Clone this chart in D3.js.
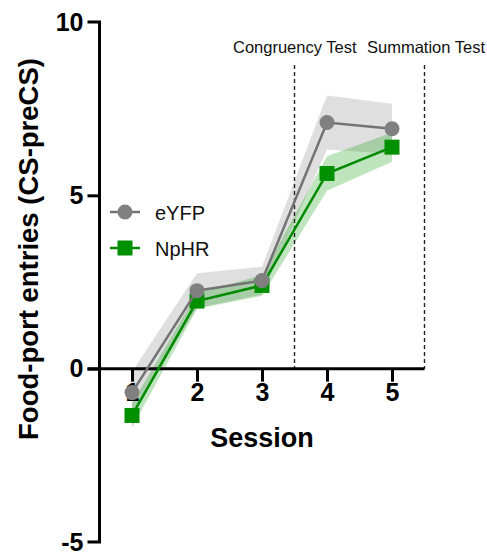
<!DOCTYPE html>
<html>
<head>
<meta charset="utf-8">
<script src="https://cdn.jsdelivr.net/npm/d3@7"></script>
<style>
  html, body { margin: 0; padding: 0; background: #fff; }
  svg { display: block; }
  text { font-family: Arial, "Liberation Sans", Helvetica, sans-serif; }
</style>
</head>
<body>
<svg id="chart" width="487" height="557"></svg>
<script>
// Sessions and group means with SEM
const sessions = [1, 2, 3, 4, 5];
const eyfpMean = [-0.69, 2.25, 2.54, 7.1, 6.92];
const eyfpSem  = [0.6, 0.5, 0.4, 0.78, 0.72];
const nphrMean = [-1.35, 1.95, 2.4, 5.63, 6.39];
const nphrSem  = [0.35, 0.22, 0.3, 0.5, 0.42];
const yTicks = [-5, 0, 5, 10];
const xTicks = [1, 2, 3, 4, 5];
const phaseBounds = [3.5, 5.5];
const phaseLabels = ["Congruency Test", "Summation Test"];

const svg = d3.select("#chart");

const x = d3.scaleLinear().domain([0.5, 5.5]).range([99.5, 424.5]);
const y = d3.scaleLinear().domain([-5, 10]).range([542, 22]);

const groups = [
  { name: "eYFP", mean: eyfpMean, sem: eyfpSem, line: "#737373", fill: "#808080",
    band: "rgba(150,150,150,0.3)", shape: "circle" },
  { name: "NpHR", mean: nphrMean, sem: nphrSem, line: "#008a00", fill: "#009000",
    band: "rgba(0,150,0,0.25)", shape: "square" }
];

// SEM bands
const area = d3.area()
  .x((d, i) => x(sessions[i]))
  .y0(d => y(d.lo))
  .y1(d => y(d.hi));

groups.forEach(g => {
  const pts = g.mean.map((m, i) => ({ lo: m - g.sem[i], hi: m + g.sem[i] }));
  svg.append("path").datum(pts).attr("d", area).attr("fill", g.band);
});

// phase boundaries
svg.selectAll(".phase").data(phaseBounds).join("line")
  .attr("x1", d => x(d)).attr("x2", d => x(d))
  .attr("y1", 65).attr("y2", y(0))
  .attr("stroke", "#222").attr("stroke-width", 1.4)
  .attr("stroke-dasharray", "4,3");

svg.selectAll(".phaseLabel").data(phaseLabels).join("text")
  .attr("x", (d, i) => i === 0 ? 233 : 367)
  .attr("y", 53)
  .attr("font-size", 16.5)
  .attr("fill", "#111")
  .text(d => d);

// axes
const fmt = d => String(d);
const yAxis = d3.axisLeft(y).tickValues(yTicks).tickSize(12).tickPadding(4).tickFormat(fmt);
const gy = svg.append("g").attr("transform", `translate(${x(0.5)},0)`).call(yAxis);
gy.select(".domain").attr("d", `M-12,${y(10)}H0V${y(-5)}H-12`).attr("stroke", "#000").attr("stroke-width", 3).attr("fill", "none");
gy.selectAll(".tick line").attr("stroke", "#000").attr("stroke-width", 3);
gy.selectAll(".tick").filter(d => d === 10 || d === -5).select("line").remove();
gy.selectAll(".tick text").attr("font-size", 25).attr("font-weight", "bold").attr("fill", "#000")
  .attr("font-family", "Arial, 'Liberation Sans', sans-serif");

const xAxis = d3.axisBottom(x).tickValues(xTicks).tickSize(13).tickPadding(2).tickFormat(fmt);
const gx = svg.append("g").attr("transform", `translate(0,${y(0)})`).call(xAxis);
gx.select(".domain").attr("d", `M${x(0.5) - 12},0H${x(5.5)}V0`).attr("stroke", "#000").attr("stroke-width", 3);
gx.selectAll(".tick line").attr("stroke", "#000").attr("stroke-width", 3);
gx.selectAll(".tick text").attr("font-size", 25).attr("font-weight", "bold").attr("fill", "#000")
  .attr("font-family", "Arial, 'Liberation Sans', sans-serif");

// axis titles
svg.append("text")
  .attr("x", 262).attr("y", 447)
  .attr("text-anchor", "middle")
  .attr("font-size", 27).attr("font-weight", "bold")
  .text("Session");

svg.append("text")
  .attr("transform", "translate(38,249) rotate(-90)")
  .attr("text-anchor", "middle")
  .attr("font-size", 27.5).attr("font-weight", "bold")
  .text("Food-port entries (CS-preCS)");

// lines and markers (NpHR first so eYFP sits on top)
const line = d3.line().x((d, i) => x(sessions[i])).y(d => y(d));

function marker(sel, g, cx, cy) {
  if (g.shape === "circle") {
    sel.append("circle").attr("cx", cx).attr("cy", cy).attr("r", 7.5).attr("fill", g.fill);
  } else {
    sel.append("rect").attr("x", cx - 7.5).attr("y", cy - 7.5).attr("width", 15).attr("height", 15).attr("fill", g.fill);
  }
}

[groups[1], groups[0]].forEach(g => {
  svg.append("path").datum(g.mean).attr("d", line)
    .attr("fill", "none").attr("stroke", g.line).attr("stroke-width", 2.5);
  const gm = svg.append("g");
  g.mean.forEach((m, i) => marker(gm, g, x(sessions[i]), y(m)));
});

// legend
const legend = svg.append("g");
groups.forEach((g, i) => {
  const ly = 212 + i * 36;
  legend.append("line").attr("x1", 110).attr("x2", 140).attr("y1", ly).attr("y2", ly)
    .attr("stroke", g.line).attr("stroke-width", 2.5);
  marker(legend, g, 125, ly);
  legend.append("text").attr("x", 155).attr("y", ly + 7.5)
    .attr("font-size", 20).attr("fill", "#111").text(g.name);
});
</script>
</body>
</html>
